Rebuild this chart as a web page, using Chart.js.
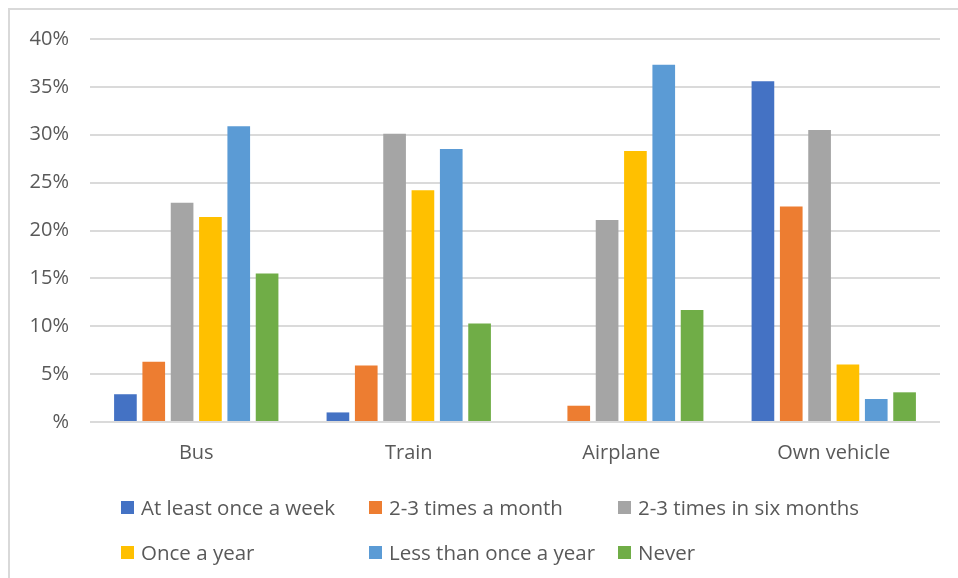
<!DOCTYPE html>
<html>
<head>
<meta charset="utf-8">
<script src="https://cdn.jsdelivr.net/npm/chart.js@4.4.1/dist/chart.umd.min.js"></script>
<style>
  html, body { margin: 0; padding: 0; background: #fff; }
  #wrap { position: relative; width: 958px; height: 578px; overflow: hidden; font-family: 'Open Sans', sans-serif; }
  #c { position: absolute; left: 0; top: 0; }
  #frame { position: absolute; left: 8px; top: 8px; right: -4px; bottom: -4px;
           border-top: 2px solid #d9d9d9; border-left: 2px solid #d9d9d9; pointer-events: none; }
  .lg { position: absolute; display: flex; align-items: center; height: 20px;
        font-size: 20.5px; line-height: 20px; color: #595959; white-space: nowrap; }
  .lg i { display: inline-block; width: 13px; height: 13px; margin-right: 7px; }
</style>
</head>
<body>
<div id="wrap">
  <canvas id="c" width="958" height="578"></canvas>
  <div id="frame"></div>
  <div id="legend"></div>
</div>
<script>
// Share of respondents (%) by how often they use each mode of transport
const categories = ['Bus', 'Train', 'Airplane', 'Own vehicle'];
const seriesNames = ['At least once a week', '2-3 times a month', '2-3 times in six months',
                     'Once a year', 'Less than once a year', 'Never'];
const atLeastWeekly   = [2.9, 1.0, 0, 35.6];
const twiceMonthly    = [6.3, 5.9, 1.7, 22.5];
const twiceHalfYear   = [22.9, 30.1, 21.1, 30.5];
const onceYearly      = [21.4, 24.2, 28.3, 6.0];
const lessThanYearly  = [30.9, 28.5, 37.3, 2.4];
const never           = [15.5, 10.3, 11.7, 3.1];
const yTicks = [0, 5, 10, 15, 20, 25, 30, 35, 40];

const seriesValues = [atLeastWeekly, twiceMonthly, twiceHalfYear, onceYearly, lessThanYearly, never];
const palette = ['#4472C4', '#ED7D31', '#A5A5A5', '#FFC000', '#5B9BD5', '#70AD47'];

const chart = new Chart(document.getElementById('c'), {
  type: 'bar',
  data: {
    labels: categories,
    datasets: seriesNames.map((name, i) => ({
      label: name,
      data: seriesValues[i],
      backgroundColor: palette[i],
      borderWidth: 0,
      categoryPercentage: 0.8,
      barPercentage: 0.8
    }))
  },
  options: {
    responsive: false,
    animation: false,
    layout: { padding: { top: 39, right: 18, bottom: 100, left: 0 } },
    plugins: { legend: { display: false }, tooltip: { enabled: false } },
    scales: {
      x: {
        grid: { display: false, drawTicks: false },
        border: { display: false },
        ticks: { color: '#595959', padding: 19, font: { family: "'Open Sans'", size: 20 } },
        afterFit: s => { s.height = 56; }
      },
      y: {
        min: 0, max: 40,
        afterBuildTicks: s => { s.ticks = yTicks.map(v => ({ value: v })); },
        grid: { color: '#dadada', lineWidth: 2, drawTicks: false },
        border: { display: false },
        ticks: {
          color: '#595959', padding: 21, font: { family: "'Open Sans'", size: 20 },
          callback: v => (v === 0 ? '%' : v + '%')
        },
        afterFit: s => { s.width = 90; }
      }
    }
  }
});

// Legend in a 3-column grid, built from the chart's datasets
const legendCols = [121, 369, 618];
const legendRows = [507, 552];
const legendEl = document.getElementById('legend');
chart.data.datasets.forEach((ds, i) => {
  const item = document.createElement('div');
  item.className = 'lg';
  item.style.left = legendCols[i % 3] + 'px';
  item.style.top = (legendRows[Math.floor(i / 3)] - 10) + 'px';
  const sw = document.createElement('i');
  sw.style.background = ds.backgroundColor;
  item.appendChild(sw);
  item.appendChild(document.createTextNode(ds.label));
  legendEl.appendChild(item);
});
</script>
</body>
</html>
